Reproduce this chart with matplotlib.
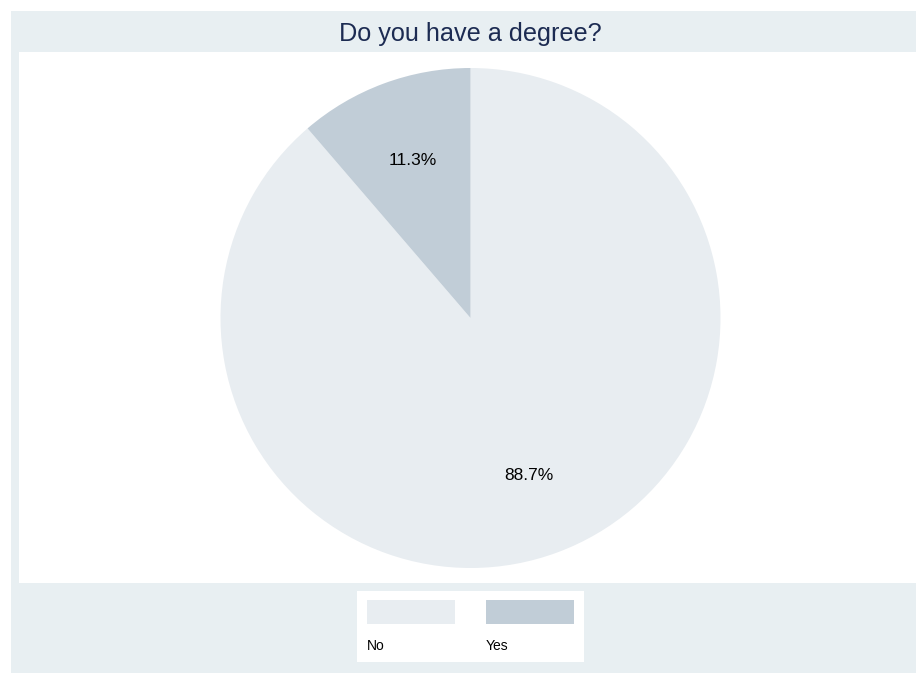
import matplotlib.pyplot as plt
from matplotlib.patches import Rectangle

plt.rcParams['font.family'] = ['Liberation Sans', 'DejaVu Sans']

# answers and shares (percent)
labels = ['No', 'Yes']
shares = [88.7, 11.3]
colors = ['#e8edf1', '#c1cdd7']
bg = '#e8eff2'

W, H = 916, 673
fig = plt.figure(figsize=(W / 100, H / 100), dpi=100)
fig.patch.set_facecolor('white')

def fbox(x0, y0, x1, y1):
    # pixel box (top-left origin) -> figure fraction rect
    return [x0 / W, 1 - y1 / H, (x1 - x0) / W, (y1 - y0) / H]

# outer graph region, kept behind the axes
fig.patches.append(Rectangle((11 / W, 0), 1 - 11 / W, 1 - 11 / H,
                             transform=fig.transFigure, facecolor=bg,
                             edgecolor='none', zorder=-5))

fig.text(470 / W, 1 - 34 / H, 'Do you have a degree?', ha='center', va='center',
         fontsize=18.2, color='#1c2b52')

# plot region with the pie
ax = fig.add_axes(fbox(19, 52, 916, 583))
wedges, _, autotexts = ax.pie(shares, colors=colors, startangle=90, counterclock=False,
                              radius=1.0, autopct='%1.1f%%', pctdistance=0.67,
                              wedgeprops=dict(linewidth=0),
                              textprops=dict(fontsize=12.5, color='black'))
ax.set_aspect('auto')
ax.set_xlim(-(470.5 - 19) / 250, (916 - 470.5) / 250)
ax.set_ylim(-(583 - 318) / 250, (318 - 52) / 250)
ax.set_frame_on(True)
ax.set_xticks([])
ax.set_yticks([])
for s in ax.spines.values():
    s.set_visible(False)
ax.set_facecolor('white')

# legend: swatches in a row, labels beneath
lax = fig.add_axes(fbox(357, 591, 584, 662))
lax.set_xlim(357, 584)
lax.set_ylim(662, 591)
lax.set_facecolor('white')
lax.set_xticks([])
lax.set_yticks([])
for s in lax.spines.values():
    s.set_visible(False)
for i, (lab, c) in enumerate(zip(labels, colors)):
    x0 = 367 + i * 119
    lax.add_patch(Rectangle((x0, 600), 88, 24, facecolor=c, edgecolor='none'))
    lax.text(x0, 646, lab, ha='left', va='center', fontsize=10, color='black')

fig.savefig('out.png', dpi=100)
